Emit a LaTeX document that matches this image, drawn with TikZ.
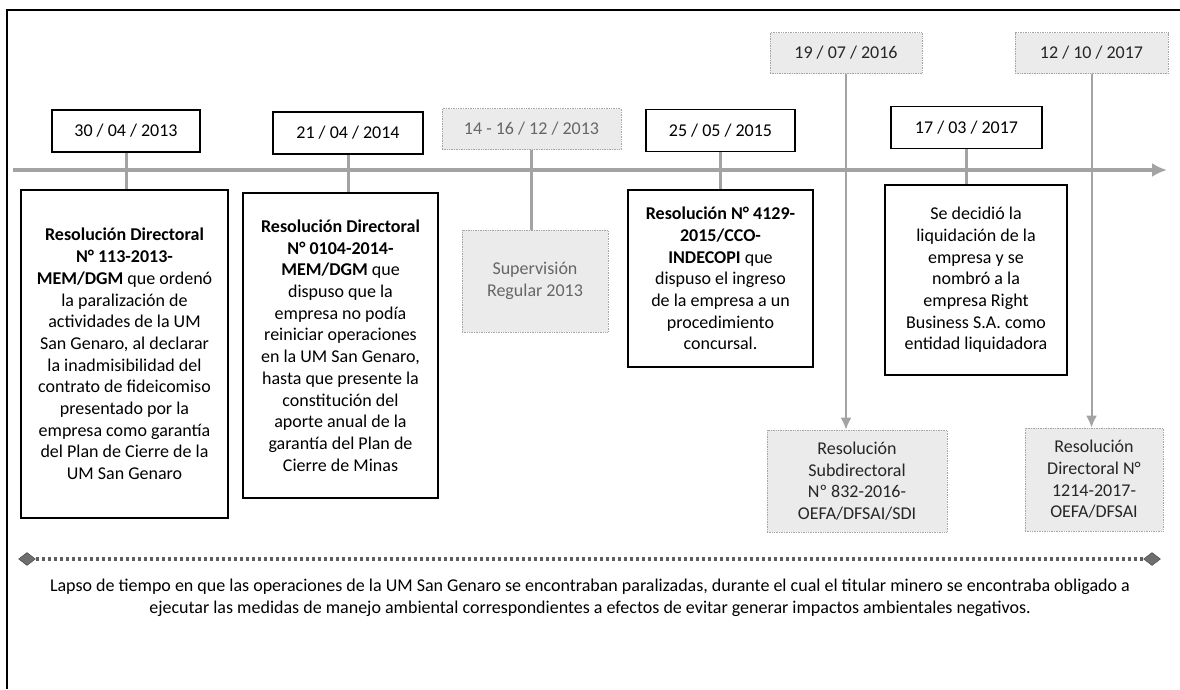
\documentclass[tikz,border=0pt]{standalone}
\usepackage{fontspec}
\setmainfont{Carlito}
\usetikzlibrary{arrows.meta,shapes.geometric}

\definecolor{linegray}{HTML}{A3A3A3}
\definecolor{boxgray}{HTML}{EBEBEB}
\definecolor{dotgray}{HTML}{5E5E5E}

\begin{document}
\begin{tikzpicture}[x=1pt, y=-1pt,
  every node/.style={font=\fontsize{18}{21.7}\selectfont, align=center, inner sep=0pt},
  datebox/.style={draw, line width=1.3pt, fill=white, minimum height=42pt},
  graydate/.style={draw=gray!70, densely dotted, line width=0.7pt, fill=boxgray, minimum height=41pt},
  textbox/.style={draw, line width=1.3pt, fill=white},
  graybox/.style={draw=gray!70, densely dotted, line width=0.7pt, fill=boxgray},
  stem/.style={draw=linegray, line width=3pt},
  stemarrow/.style={draw=linegray, line width=2pt, -{Latex[length=12pt,width=11pt]}},
  period/.style={draw=dotgray, line width=3.2pt, dash pattern=on 3pt off 3pt},
  ends/.style={diamond, draw=dotgray!70!black, fill=dotgray!90, minimum width=17pt, minimum height=13pt}
]
\useasboundingbox (0,0) rectangle (1180,689);

\draw[line width=1.8pt] (7,689) -- (7,10) -- (1180,10);

\coordinate (axstart) at (13,170);
\coordinate (axend) at (1167,170);
\draw[draw=linegray, line width=4.5pt, -{Latex[length=15pt,width=14pt]}] (axstart) -- (axend);

\node[datebox, minimum width=148pt] at (126,131) (d1) {30 / 04 / 2013};
\node[datebox, minimum width=150pt] at (348,133) (d2) {21 / 04 / 2014};
\node[graydate, minimum width=179pt, text=black!60] at (531.5,129) (d3) {14 - 16 / 12 / 2013};
\node[datebox, minimum width=149pt] at (720.5,130.5) (d4) {25 / 05 / 2015};
\node[graydate, minimum width=152pt, text=black!85] at (846,53) (d5) {19 / 07 / 2016};
\node[datebox, minimum width=151pt] at (966.5,127.5) (d6) {17 / 03 / 2017};
\node[graydate, minimum width=153pt, text=black!85] at (1091.5,53) (d7) {12 / 10 / 2017};

\node[textbox, minimum width=207pt, minimum height=328pt] at (124.5,354) (r1)
  {\textbf{Resolución Directoral}\\ \textbf{N° 113-2013-}\\ \textbf{MEM/DGM} que ordenó\\
   la paralización de\\ actividades de la UM\\ San Genaro, al declarar\\
   la inadmisibilidad del\\ contrato de fideicomiso\\ presentado por la\\
   empresa como garantía\\ del Plan de Cierre de la\\ UM San Genaro};
\node[textbox, minimum width=195pt, minimum height=305pt] at (340.5,345.5) (r2)
  {\textbf{Resolución Directoral}\\ \textbf{N° 0104-2014-}\\ \textbf{MEM/DGM} que\\
   dispuso que la\\ empresa no podía\\ reiniciar operaciones\\ en la UM San Genaro,\\
   hasta que presente la\\ constitución del\\ aporte anual de la\\
   garantía del Plan de\\ Cierre de Minas};
\node[graybox, minimum width=146pt, minimum height=102pt, text=black!60] at (535,281) (r3)
  {Supervisión\\ Regular 2013};
\node[textbox, minimum width=185pt, minimum height=177pt] at (720.5,278.5) (r4)
  {\textbf{Resolución N° 4129-}\\ \textbf{2015/CCO-}\\ \textbf{INDECOPI} que\\
   dispuso el ingreso\\ de la empresa a un\\ procedimiento\\ concursal.};
\node[graybox, minimum width=180pt, minimum height=102pt, text=black!85] at (857,481) (r5)
  {Resolución\\ Subdirectoral\\ Nº 832-2016-\\ OEFA/DFSAI/SDI};
\node[textbox, minimum width=182pt, minimum height=190pt] at (976,280) (r6)
  {Se decidió la\\ liquidación de la\\ empresa y se\\ nombró a la\\
   empresa Right\\ Business S.A. como\\ entidad liquidadora};
\node[graybox, minimum width=138pt, minimum height=103pt, text=black!85] at (1094,479.5) (r7)
  {Resolución\\ Directoral N°\\ 1214-2017-\\ OEFA/DFSAI};

\draw[stem] (d1.south) -- (d1.south |- r1.north);
\draw[stem] (d2.south) -- (d2.south |- r2.north);
\draw[stem] (d3.south) -- (d3.south |- r3.north);
\draw[stem] (d4.south) -- (d4.south |- r4.north);
\draw[stem] (d6.south) -- (d6.south |- r6.north);
\draw[stemarrow] (d5.south) -- (d5.south |- r5.north);
\draw[stemarrow] (d7.south) -- (d7.south |- r7.north);

\node[ends] at (27,559) (lapsoini) {};
\node[ends] at (1152,559) (lapsofin) {};
\draw[period] (lapsoini) -- (lapsofin);

\node at (590,598) (lapso) {Lapso de tiempo en que las operaciones de la UM San Genaro se encontraban paralizadas, durante el cual el titular minero se encontraba obligado a\\
  ejecutar las medidas de manejo ambiental correspondientes a efectos de evitar generar impactos ambientales negativos.};
\end{tikzpicture}
\end{document}
